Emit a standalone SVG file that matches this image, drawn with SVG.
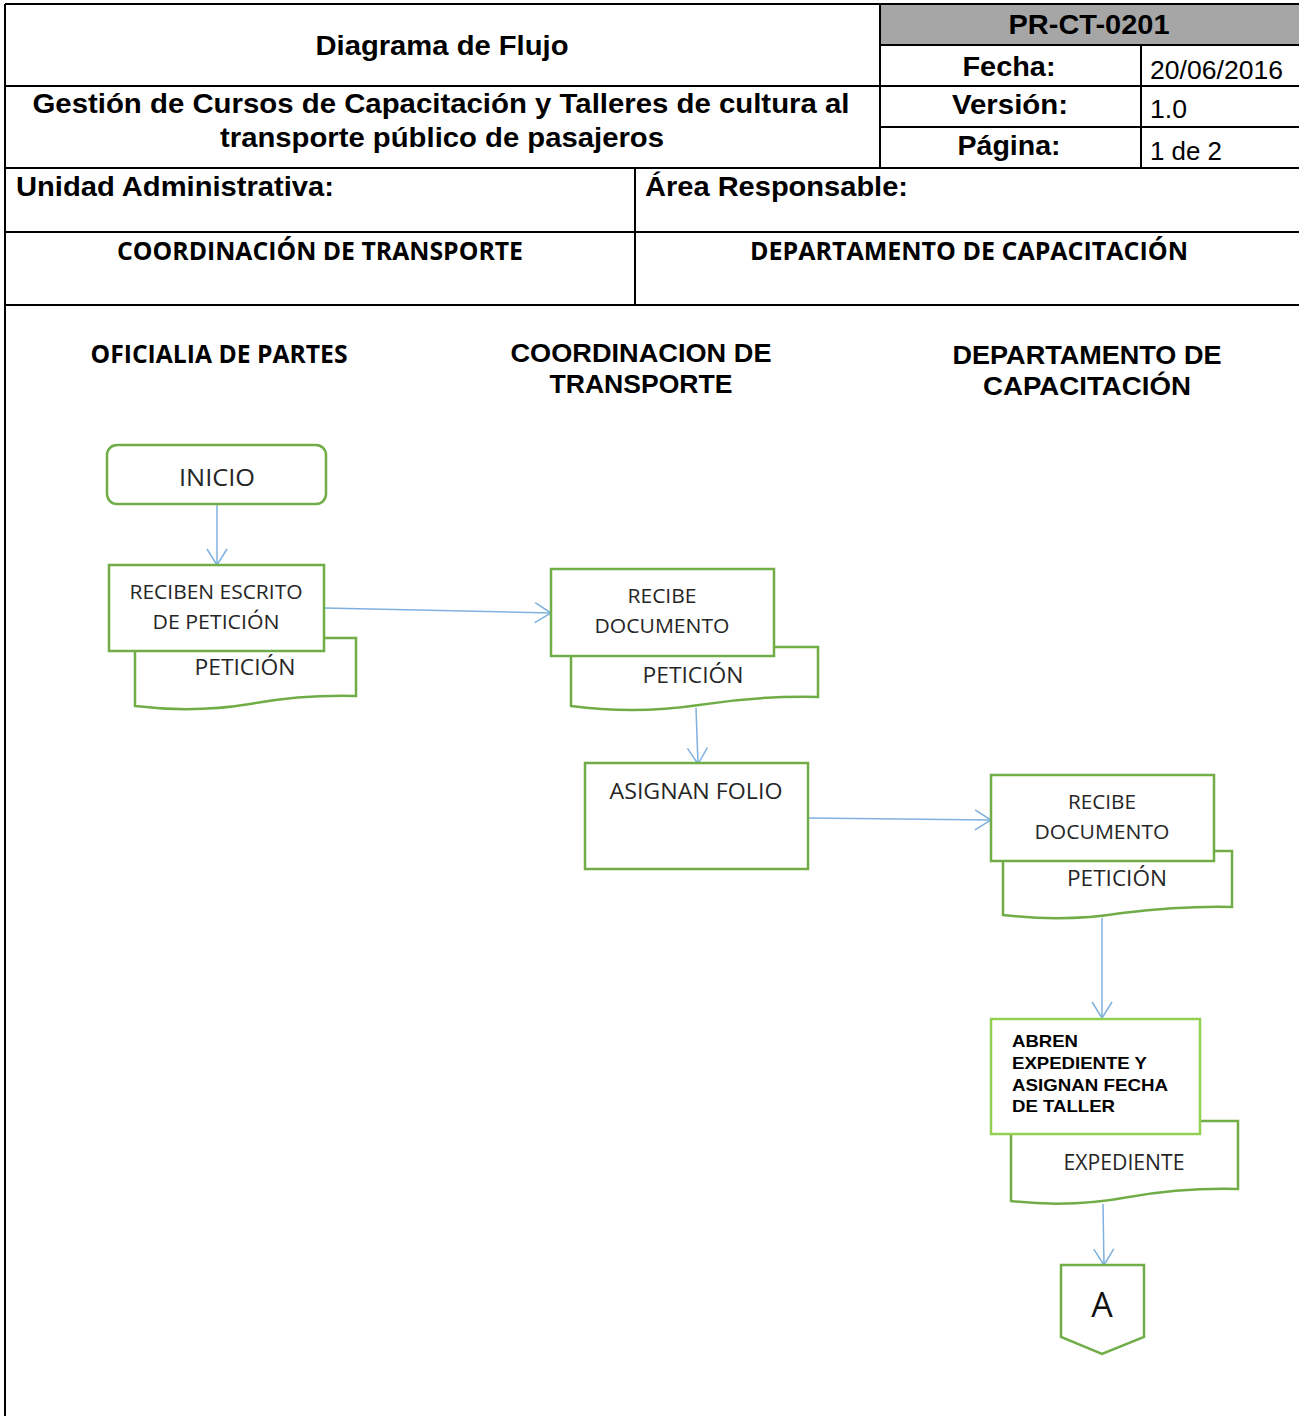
<svg xmlns="http://www.w3.org/2000/svg" width="1299" height="1416" viewBox="0 0 1299 1416">
<style>
.tb{stroke:#000;stroke-width:2;fill:none}
.hb{font-family:"Liberation Sans",Arial,sans-serif;font-weight:bold;fill:#000}
.hr{font-family:"Liberation Sans",Arial,sans-serif;fill:#000}
.cb{font-family:"Open Sans","Noto Sans",sans-serif;font-weight:bold;fill:#000}
.nt{font-family:"Open Sans","Noto Sans",sans-serif;fill:#262626}
.box{fill:#fff;stroke:#70ad47;stroke-width:2.5}
.boxl{fill:#fff;stroke:#92d050;stroke-width:2.5}
.con{stroke:#7fb1de;stroke-width:1.5;fill:none;marker-end:url(#ah)}
</style>
<defs>
<marker id="ah" markerUnits="userSpaceOnUse" markerWidth="20" markerHeight="22" viewBox="0 0 20 22" refX="18" refY="11" orient="auto">
<path d="M2,1 L18,11 L2,21" fill="none" stroke="#7fb1de" stroke-width="1.5"/>
</marker>
</defs>
<rect width="1299" height="1416" fill="#fff"/>
<g id="header">
<rect x="880" y="4" width="419" height="41" fill="#a6a6a6"/>
<path class="tb" d="M5,4 H1299 M5,4 V1416 M5,86 H1299 M880,45 H1299 M880,127 H1299 M5,168 H1299 M5,232 H1299 M5,305 H1299 M880,4 V168 M1141,45 V168 M635,168 V305"/>
<text class="hb" x="442" y="55" font-size="28" text-anchor="middle" textLength="253" lengthAdjust="spacingAndGlyphs">Diagrama de Flujo</text>
<text class="hb" x="441" y="113" font-size="28" text-anchor="middle" textLength="817" lengthAdjust="spacingAndGlyphs">Gestión de Cursos de Capacitación y Talleres de cultura al</text>
<text class="hb" x="442" y="147" font-size="28" text-anchor="middle" textLength="444" lengthAdjust="spacingAndGlyphs">transporte público de pasajeros</text>
<text class="hb" x="1089" y="34" font-size="28" text-anchor="middle" textLength="161" lengthAdjust="spacingAndGlyphs">PR-CT-0201</text>
<text class="hb" x="1009" y="76" font-size="28" text-anchor="middle" textLength="93" lengthAdjust="spacingAndGlyphs">Fecha:</text>
<text class="hb" x="1010" y="114" font-size="28" text-anchor="middle" textLength="116" lengthAdjust="spacingAndGlyphs">Versión:</text>
<text class="hb" x="1009" y="155" font-size="28" text-anchor="middle" textLength="103" lengthAdjust="spacingAndGlyphs">Página:</text>
<text class="hr" x="1150" y="79" font-size="26" textLength="133" lengthAdjust="spacingAndGlyphs">20/06/2016</text>
<text class="hr" x="1150" y="118" font-size="26" textLength="37" lengthAdjust="spacingAndGlyphs">1.0</text>
<text class="hr" x="1150" y="160" font-size="26" textLength="72" lengthAdjust="spacingAndGlyphs">1 de 2</text>
<text class="hb" x="16" y="196" font-size="28" textLength="318" lengthAdjust="spacingAndGlyphs">Unidad Administrativa:</text>
<text class="hb" x="645" y="196" font-size="28" textLength="263" lengthAdjust="spacingAndGlyphs">Área Responsable:</text>
<text class="cb" x="320" y="260" font-size="25" text-anchor="middle" textLength="406" lengthAdjust="spacingAndGlyphs">COORDINACIÓN DE TRANSPORTE</text>
<text class="cb" x="969" y="260" font-size="25" text-anchor="middle" textLength="438" lengthAdjust="spacingAndGlyphs">DEPARTAMENTO DE CAPACITACIÓN</text>
</g>
<g id="lanes">
<text class="cb" x="219" y="363" font-size="25" text-anchor="middle" textLength="257" lengthAdjust="spacingAndGlyphs">OFICIALIA DE PARTES</text>
<text class="hb" x="641" y="362" font-size="26" text-anchor="middle" textLength="261" lengthAdjust="spacingAndGlyphs">COORDINACION DE</text>
<text class="hb" x="641" y="393" font-size="26" text-anchor="middle" textLength="183" lengthAdjust="spacingAndGlyphs">TRANSPORTE</text>
<text class="hb" x="1087" y="364" font-size="26" text-anchor="middle" textLength="269" lengthAdjust="spacingAndGlyphs">DEPARTAMENTO DE</text>
<text class="hb" x="1087" y="395" font-size="26" text-anchor="middle" textLength="208" lengthAdjust="spacingAndGlyphs">CAPACITACIÓN</text>
</g>
<g id="connectors">
<path class="con" d="M217,504 L217,565"/>
<path class="con" d="M324,608 L551,613"/>
<path class="con" d="M696,708 L698,764"/>
<path class="con" d="M808,818 L991,820"/>
<path class="con" d="M1102,918 L1102,1018"/>
<path class="con" d="M1103,1204 L1104,1265"/>
</g>
<g id="inicio">
<rect class="box" x="107" y="445" width="219" height="59" rx="10"/>
<text class="nt" x="217" y="486" font-size="24" text-anchor="middle" textLength="76" lengthAdjust="spacingAndGlyphs">INICIO</text>
</g>
<g id="doc-peticion-1">
<path class="box" d="M135,638 H356 V696 C318,695 283,698 250,704 C208,711 168,710 135,706 Z"/>
<text class="nt" x="245" y="675" font-size="22" text-anchor="middle" textLength="101" lengthAdjust="spacingAndGlyphs">PETICIÓN</text>
</g>
<g id="reciben-escrito">
<rect class="box" x="109" y="565" width="215" height="86"/>
<text class="nt" x="216" y="599" font-size="20" text-anchor="middle" textLength="173" lengthAdjust="spacingAndGlyphs">RECIBEN ESCRITO</text>
<text class="nt" x="216" y="629" font-size="20" text-anchor="middle" textLength="127" lengthAdjust="spacingAndGlyphs">DE PETICIÓN</text>
</g>
<g id="doc-peticion-2">
<path class="box" d="M571,647 H818 V697 C776,696 737,699 699,705 C653,712 608,711 571,706 Z"/>
<text class="nt" x="693" y="683" font-size="22" text-anchor="middle" textLength="101" lengthAdjust="spacingAndGlyphs">PETICIÓN</text>
</g>
<g id="recibe-documento-1">
<rect class="box" x="551" y="569" width="223" height="87"/>
<text class="nt" x="662" y="603" font-size="20" text-anchor="middle" textLength="69" lengthAdjust="spacingAndGlyphs">RECIBE</text>
<text class="nt" x="662" y="633" font-size="20" text-anchor="middle" textLength="135" lengthAdjust="spacingAndGlyphs">DOCUMENTO</text>
</g>
<g id="asignan-folio">
<rect class="box" x="585" y="763" width="223" height="106"/>
<text class="nt" x="696" y="799" font-size="22" text-anchor="middle" textLength="173" lengthAdjust="spacingAndGlyphs">ASIGNAN FOLIO</text>
</g>
<g id="doc-peticion-3">
<path class="box" d="M1003,851 H1232 V907 C1193,906 1156,909 1122,913 C1079,920 1037,919 1003,915 Z"/>
<text class="nt" x="1117" y="886" font-size="22" text-anchor="middle" textLength="100" lengthAdjust="spacingAndGlyphs">PETICIÓN</text>
</g>
<g id="recibe-documento-2">
<rect class="box" x="991" y="775" width="223" height="86"/>
<text class="nt" x="1102" y="809" font-size="20" text-anchor="middle" textLength="68" lengthAdjust="spacingAndGlyphs">RECIBE</text>
<text class="nt" x="1102" y="839" font-size="20" text-anchor="middle" textLength="135" lengthAdjust="spacingAndGlyphs">DOCUMENTO</text>
</g>
<g id="doc-expediente">
<path class="box" d="M1011,1121 H1238 V1189 C1199,1188 1163,1191 1129,1197 C1086,1205 1045,1205 1011,1201 Z"/>
<text class="nt" x="1124" y="1170" font-size="21" text-anchor="middle" textLength="121" lengthAdjust="spacingAndGlyphs">EXPEDIENTE</text>
</g>
<g id="abren-expediente">
<rect class="boxl" x="991" y="1019" width="209" height="115"/>
<text class="hb" x="1012" y="1047" font-size="17" textLength="66" lengthAdjust="spacingAndGlyphs">ABREN</text>
<text class="hb" x="1012" y="1069" font-size="17" textLength="135" lengthAdjust="spacingAndGlyphs">EXPEDIENTE Y</text>
<text class="hb" x="1012" y="1091" font-size="17" textLength="156" lengthAdjust="spacingAndGlyphs">ASIGNAN FECHA</text>
<text class="hb" x="1012" y="1112" font-size="17" textLength="103" lengthAdjust="spacingAndGlyphs">DE TALLER</text>
</g>
<g id="conector-a">
<path class="box" d="M1061,1265 H1144 V1337 L1102,1354 L1061,1337 Z"/>
<text class="nt" x="1102" y="1317" font-size="34" text-anchor="middle" fill="#000" style="fill:#111">A</text>
</g>
</svg>
